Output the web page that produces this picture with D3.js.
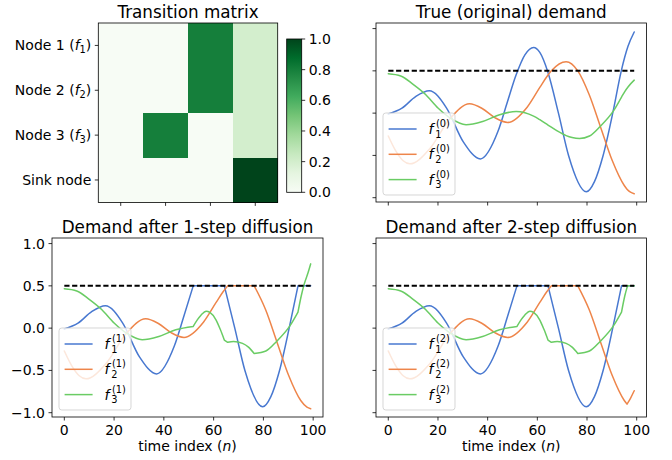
<!DOCTYPE html>
<html><head><meta charset="utf-8">
<script src="https://cdn.jsdelivr.net/npm/d3@7"></script>
<style>
body{margin:0;background:#fff}
text{font-family:"DejaVu Sans",sans-serif;fill:#000}
</style>
</head><body>
<svg id="c" width="672" height="460" xmlns="http://www.w3.org/2000/svg"></svg>
<script>
// ---------------- DATA ----------------
const matrixRows = ["Node 1", "Node 2", "Node 3", "Sink node"];
const matrixRowSubs = ["1", "2", "3", null];
const matrixValues = [
  [0, 0, 0.8, 0.2],
  [0, 0, 0.8, 0.2],
  [0, 0.8, 0, 0.2],
  [0, 0, 0, 1.0]
];
const colorbarTicks = [0, 0.2, 0.4, 0.6, 0.8, 1.0];
const greensStops = ["#f7fcf5","#e5f5e0","#c7e9c0","#a1d99b","#74c476","#41ab5d","#238b45","#006d2c","#00441b"];

const xTicks = [0, 20, 40, 60, 80, 100];
const yTicks = [-1, -0.5, 0, 0.5, 1];
const yTickLabels = ["\u22121.0", "\u22120.5", "0.0", "0.5", "1.0"];
const threshold = 0.5;
const nRange = [0, 99];

const panelTitles = ["True (original) demand", "Demand after 1-step diffusion", "Demand after 2-step diffusion"];
const stepLabels = ["(0)", "(1)", "(2)"];
const nodeSubs = ["1", "2", "3"];
const seriesColors = ["#4878d0", "#ee854a", "#6acc64"];

// Step 0 (true demand)
const f1_0_n = [0, 5.5, 11, 16.5, 23.4, 30.2, 37.1, 44.2, 48, 51.4, 55, 58.5, 61, 64.2, 68.5, 72.6, 79.7, 83, 86.4, 90.5, 93.8, 96.5, 99];
const f1_0_v = [-0.01, 0.059, 0.195, 0.264, 0.063, -0.34, -0.541, -0.212, 0.137, 0.447, 0.689, 0.776, 0.718, 0.49, 0.0, -0.504, -0.93, -0.81, -0.51, 0.02, 0.5, 0.79, 0.96];
const f2_0_n = [0, 3, 6, 8.7, 16.7, 24.7, 32.7, 37.8, 43, 48.1, 55.9, 61, 63.8, 65.65, 71.6, 76.3, 80.9, 85.5, 90.2, 95, 96.1, 97.5, 99];
const f2_0_v = [-0.27, -0.446, -0.563, -0.6, -0.42, -0.07, 0.11, 0.055, -0.055, -0.11, 0.07, 0.304, 0.43, 0.5, 0.608, 0.5, 0.217, -0.169, -0.564, -0.856, -0.899, -0.935, -0.953];
const f3_0_n = [0, 5, 10, 15, 20, 25, 31.3, 38, 44.8, 51.5, 55, 58.5, 61, 64.3, 68, 71.6, 74, 77, 81, 85.3, 90.5, 93.9, 95.2, 96.5, 99];
const f3_0_v = [0.465, 0.44, 0.34, 0.22, 0.06, -0.06, -0.137, -0.098, -0.019, 0.02, 0.005, -0.036, -0.078, -0.141, -0.211, -0.266, -0.289, -0.3, -0.27, -0.157, 0.02, 0.19, 0.255, 0.31, 0.39];

// Step 1
const f1_1_n = [0, 5.5, 11, 16.5, 23.4, 30.2, 37.1, 44.2, 48, 51.8, 58.5, 64.3, 68.5, 72.6, 79.7, 83, 86.4, 90.5, 93.9, 96.5, 99];
const f1_1_v = [-0.01, 0.059, 0.195, 0.264, 0.063, -0.34, -0.541, -0.212, 0.137, 0.5, 0.5, 0.5, 0.0, -0.504, -0.93, -0.81, -0.51, 0.02, 0.5, 0.5, 0.5];
const f1_1_kinks = [51.8, 64.3, 93.9];
const f2_1_n = [0, 3, 6, 8.7, 16.7, 24.7, 32.7, 37.8, 43, 48.1, 55.9, 61, 63.8, 65.65, 71.6, 76.3, 80.9, 85.5, 90.2, 95, 97.5, 99];
const f2_1_v = [-0.27, -0.446, -0.563, -0.6, -0.42, -0.07, 0.11, 0.055, -0.055, -0.11, 0.07, 0.304, 0.43, 0.5, 0.5, 0.5, 0.217, -0.169, -0.564, -0.856, -0.935, -0.953];
const f2_1_kinks = [65.65, 76.3];
const f3_1_n = [0, 5, 10, 15, 20, 25, 31.3, 38, 44.8, 51.8, 53.5, 55, 57, 58.5, 61, 62.7, 64.3, 65.65, 68, 71.6, 74, 76.3, 81, 85.3, 90.5, 93.9, 95.2, 96.5, 98, 99];
const f3_1_v = [0.465, 0.44, 0.34, 0.22, 0.06, -0.06, -0.137, -0.098, -0.019, 0.02, 0.10, 0.156, 0.20, 0.185, 0.096, -0.017, -0.141, -0.167, -0.157, -0.18, -0.225, -0.3, -0.27, -0.157, 0.02, 0.19, 0.38, 0.53, 0.66, 0.76];
const f3_1_kinks = [51.8, 64.3, 65.65, 76.3, 93.9];

// Step 2
const f1_2_n = [0, 5.5, 11, 16.5, 23.4, 30.2, 37.1, 44.2, 48, 51.8, 58.5, 64.3, 68.5, 72.6, 79.7, 83, 86.4, 90.5, 93.9, 96.5, 99];
const f1_2_v = [-0.01, 0.059, 0.195, 0.264, 0.063, -0.34, -0.541, -0.212, 0.137, 0.5, 0.5, 0.5, 0.0, -0.504, -0.93, -0.81, -0.51, 0.02, 0.5, 0.5, 0.5];
const f1_2_kinks = [51.8, 64.3, 93.9];
const f2_2_n = [0, 3, 6, 8.7, 16.7, 24.7, 32.7, 37.8, 43, 48.1, 55.9, 61, 63.8, 65.65, 71.6, 76.3, 80.9, 85.5, 90.2, 95, 96.1, 97.5, 99];
const f2_2_v = [-0.27, -0.446, -0.563, -0.6, -0.42, -0.07, 0.11, 0.055, -0.055, -0.11, 0.07, 0.304, 0.43, 0.5, 0.5, 0.5, 0.217, -0.169, -0.564, -0.856, -0.899, -0.83, -0.741];
const f2_2_kinks = [65.65, 76.3, 96.1];
const f3_2_n = [0, 5, 10, 15, 20, 25, 31.3, 38, 44.8, 51.8, 53.5, 55, 57, 58.5, 61, 62.7, 64.3, 65.65, 68, 71.6, 74, 76.3, 81, 85.3, 90.5, 93.9, 95.2, 96.3, 99];
const f3_2_v = [0.465, 0.44, 0.34, 0.22, 0.06, -0.06, -0.137, -0.098, -0.019, 0.02, 0.10, 0.156, 0.20, 0.185, 0.096, -0.017, -0.141, -0.167, -0.157, -0.18, -0.225, -0.3, -0.27, -0.157, 0.02, 0.19, 0.38, 0.5, 0.5];
const f3_2_kinks = [51.8, 64.3, 65.65, 76.3, 93.9, 96.3];

// ---------------- DRAW ----------------
const svg = d3.select("#c");
svg.append("rect").attr("width", 672).attr("height", 460).attr("fill", "#fff");

const TICK = 3.5, PAD = 3.5, FS = 14, TFS = 16.8;
const greens = d3.scaleLinear().domain(d3.range(9).map(i => i / 8)).range(greensStops).interpolate(d3.interpolateRgb);

// ---- Heatmap ----
(function () {
  const L = 98.3, T = 23, S = 179.4;
  const g = svg.append("g");
  const xs = d3.scaleBand().domain(d3.range(4)).range([L, L + S]);
  const ys = d3.scaleBand().domain(d3.range(4)).range([T, T + S]);
  matrixValues.forEach((row, r) => row.forEach((v, c) => {
    g.append("rect").attr("x", xs(c)).attr("y", ys(r)).attr("width", xs.bandwidth() + 0.5).attr("height", ys.bandwidth() + 0.5)
      .attr("fill", greens(v)).attr("shape-rendering", "crispEdges");
  }));
  g.append("rect").attr("x", L).attr("y", T).attr("width", S).attr("height", S).attr("fill", "none").attr("stroke", "#000").attr("stroke-width", 0.8);
  matrixRows.forEach((lab, r) => {
    const y = ys(r) + ys.bandwidth() / 2;
    g.append("line").attr("x1", L - TICK).attr("x2", L).attr("y1", y).attr("y2", y).attr("stroke", "#000").attr("stroke-width", 0.8);
    const t = g.append("text").attr("x", L - TICK - PAD).attr("y", y + 5).attr("text-anchor", "end").attr("font-size", FS);
    if (matrixRowSubs[r]) {
      t.append("tspan").text(lab + " (");
      t.append("tspan").attr("font-style", "italic").text("f");
      t.append("tspan").attr("font-size", 9.8).attr("dy", 3).text(matrixRowSubs[r]);
      t.append("tspan").attr("dy", -3).text(")");
    } else {
      t.text(lab);
    }
  });
  d3.range(4).forEach(c => {
    const x = xs(c) + xs.bandwidth() / 2;
    g.append("line").attr("x1", x).attr("x2", x).attr("y1", T + S).attr("y2", T + S + TICK).attr("stroke", "#000").attr("stroke-width", 0.8);
  });
  g.append("text").attr("x", L + S / 2).attr("y", T - 5).attr("text-anchor", "middle").attr("font-size", TFS).text("Transition matrix");

  // colorbar
  const CL = 286.7, CW = 15, CT = 39, CB = 192.3;
  const defs = svg.append("defs");
  const grad = defs.append("linearGradient").attr("id", "gr").attr("x1", 0).attr("y1", 1).attr("x2", 0).attr("y2", 0);
  greensStops.forEach((c, i) => grad.append("stop").attr("offset", i / 8).attr("stop-color", c));
  g.append("rect").attr("x", CL).attr("y", CT).attr("width", CW).attr("height", CB - CT).attr("fill", "url(#gr)");
  g.append("rect").attr("x", CL).attr("y", CT).attr("width", CW).attr("height", CB - CT).attr("fill", "none").attr("stroke", "#000").attr("stroke-width", 0.8);
  const cy = d3.scaleLinear().domain([0, 1]).range([CB, CT]);
  colorbarTicks.forEach(v => {
    g.append("line").attr("x1", CL + CW).attr("x2", CL + CW + TICK).attr("y1", cy(v)).attr("y2", cy(v)).attr("stroke", "#000").attr("stroke-width", 0.8);
    g.append("text").attr("x", CL + CW + TICK + PAD).attr("y", cy(v) + 5).attr("font-size", FS).text(v.toFixed(1));
  });
})();

// ---- Time panels ----
function segments(ns, vs, kinks) {
  const segs = [];
  let cur = [];
  ns.forEach((n, i) => {
    cur.push([n, vs[i]]);
    if (kinks.includes(n) && cur.length > 1) { segs.push(cur); cur = [[n, vs[i]]]; }
  });
  if (cur.length > 1) segs.push(cur);
  return segs;
}

function timePanel(opt) {
  const { L, T, W, H, title, series, step, yLabels, xLabels } = opt;
  const g = svg.append("g");
  const x = d3.scaleLinear().domain([-4.95, 103.95]).range([L, L + W]);
  const y = d3.scaleLinear().domain([-1.051, 1.066]).range([T + H, T]);
  const line = d3.line().x(d => x(d[0])).y(d => y(d[1])).curve(d3.curveMonotoneX);

  series.forEach((s, i) => {
    const d = segments(s.n, s.v, s.kinks || []).map(seg => line(seg)).join("");
    g.append("path").attr("d", d).attr("fill", "none").attr("stroke", seriesColors[i]).attr("stroke-width", 1.5)
      .attr("stroke-linejoin", "round").attr("stroke-linecap", "round");
  });
  g.append("line").attr("x1", x(nRange[0])).attr("x2", x(nRange[1])).attr("y1", y(threshold)).attr("y2", y(threshold))
    .attr("stroke", "#000").attr("stroke-width", 2).attr("stroke-dasharray", "5.2,2.6");

  g.append("rect").attr("x", L).attr("y", T).attr("width", W).attr("height", H).attr("fill", "none").attr("stroke", "#000").attr("stroke-width", 0.8);
  xTicks.forEach(v => {
    g.append("line").attr("x1", x(v)).attr("x2", x(v)).attr("y1", T + H).attr("y2", T + H + TICK).attr("stroke", "#000").attr("stroke-width", 0.8);
    if (xLabels) g.append("text").attr("x", x(v)).attr("y", T + H + TICK + PAD + 10.5).attr("text-anchor", "middle").attr("font-size", FS).text(v);
  });
  yTicks.forEach((v, i) => {
    g.append("line").attr("x1", L - TICK).attr("x2", L).attr("y1", y(v)).attr("y2", y(v)).attr("stroke", "#000").attr("stroke-width", 0.8);
    if (yLabels) g.append("text").attr("x", L - TICK - PAD).attr("y", y(v) + 5).attr("text-anchor", "end").attr("font-size", FS).text(yTickLabels[i]);
  });
  if (xLabels) {
    const t = g.append("text").attr("x", L + W / 2).attr("y", T + H + 34).attr("text-anchor", "middle").attr("font-size", FS);
    t.append("tspan").text("time index (");
    t.append("tspan").attr("font-style", "italic").text("n");
    t.append("tspan").text(")");
  }
  g.append("text").attr("x", L + W / 2).attr("y", T - 5).attr("text-anchor", "middle").attr("font-size", TFS).text(title);

  // legend
  const bx = L + 7, bw = 72, bh = 82, by = T + H - 7 - bh;
  g.append("rect").attr("x", bx).attr("y", by).attr("width", bw).attr("height", bh).attr("rx", 2.8)
    .attr("fill", "#fff").attr("fill-opacity", 0.8).attr("stroke", "#cccccc").attr("stroke-opacity", 0.8).attr("stroke-width", 1);
  nodeSubs.forEach((sub, i) => {
    const hy = by + 16 + i * 25.3;
    g.append("line").attr("x1", bx + 5.6).attr("x2", bx + 33.6).attr("y1", hy).attr("y2", hy).attr("stroke", seriesColors[i]).attr("stroke-width", 1.5);
    const tx = bx + 45.5;
    g.append("text").attr("x", tx).attr("y", hy + 5).attr("font-size", FS).attr("font-style", "italic").text("f");
    g.append("text").attr("x", tx + 7.5).attr("y", hy - 2).attr("font-size", 9.8).text(stepLabels[step]);
    g.append("text").attr("x", tx + 6.8).attr("y", hy + 8.5).attr("font-size", 9.8).text(sub);
  });
}

timePanel({ L: 376, T: 23, W: 270.5, H: 179, title: panelTitles[0], step: 0, yLabels: false, xLabels: false,
  series: [{ n: f1_0_n, v: f1_0_v }, { n: f2_0_n, v: f2_0_v }, { n: f3_0_n, v: f3_0_v }] });
timePanel({ L: 52, T: 238, W: 271, H: 179, title: panelTitles[1], step: 1, yLabels: true, xLabels: true,
  series: [{ n: f1_1_n, v: f1_1_v, kinks: f1_1_kinks }, { n: f2_1_n, v: f2_1_v, kinks: f2_1_kinks }, { n: f3_1_n, v: f3_1_v, kinks: f3_1_kinks }] });
timePanel({ L: 376, T: 238, W: 270.5, H: 179, title: panelTitles[2], step: 2, yLabels: false, xLabels: true,
  series: [{ n: f1_2_n, v: f1_2_v, kinks: f1_2_kinks }, { n: f2_2_n, v: f2_2_v, kinks: f2_2_kinks }, { n: f3_2_n, v: f3_2_v, kinks: f3_2_kinks }] });
</script>
</body></html>
